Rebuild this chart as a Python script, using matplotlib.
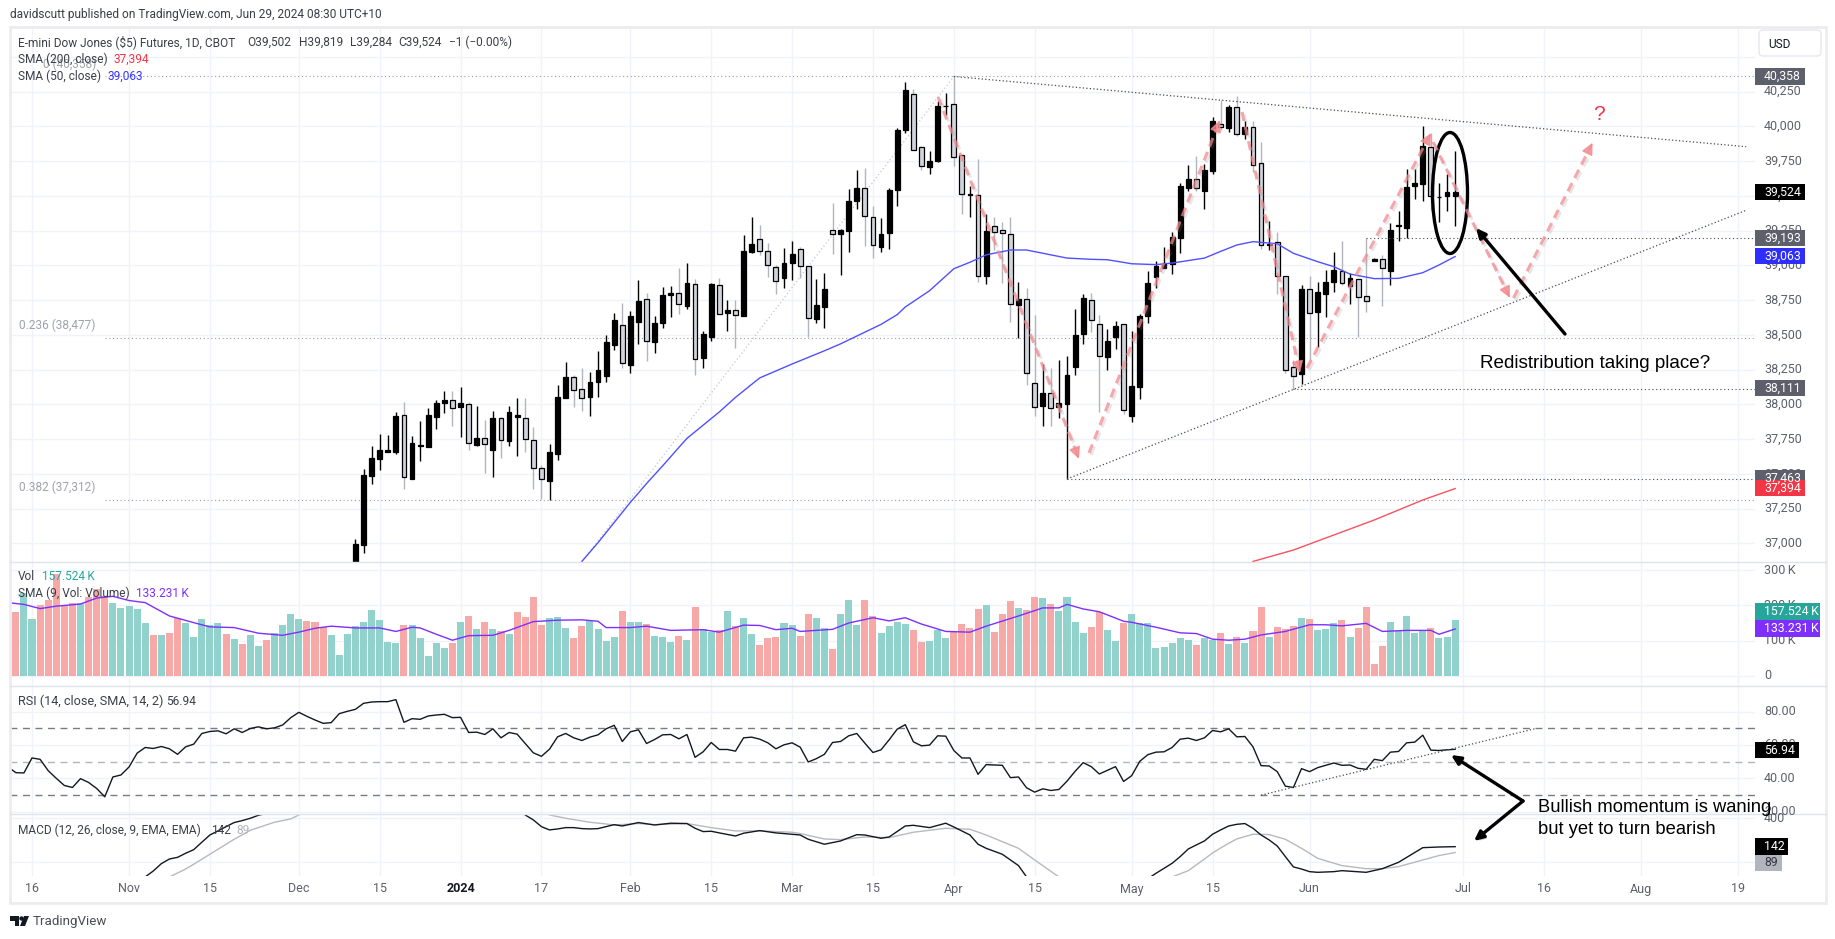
import matplotlib
matplotlib.use('Agg')
import matplotlib.pyplot as plt
import matplotlib.patheffects as pe
from matplotlib.patches import Ellipse, Rectangle, FancyBboxPatch, Polygon, Circle
import numpy as np

W, H = 1835, 939
plt.rcParams['font.family'] = ['Roboto', 'DejaVu Sans']

# daily candles, first bar index is 40 (bar 0 = 16 Oct 2023)
first_bar = 40
opens = [36800,36990,37487,37610,37660,37658,37924,37466,37703,37696,
         37912,38013,38034,37984,38003,37710,37761,37674,37902,37739,
         37912,37902,37744,37542,37451,37646,38049,38200,38111,38056,
         38157,38207,38430,38574,38286,38593,38756,38449,38586,38788,
         38800,38708,38864,38334,38485,38857,38658,38677,38636,39097,
         39188,39102,38987,38910,39018,39116,38994,38615,38701,39253,
         39227,39248,39464,39556,39349,39133,39234,39544,39976,40235,
         39851,39709,39750,40144,40160,39793,39503,39505,38920,39282,
         39253,39224,38716,38759,38152,37988,38080,37981,38003,38269,
         38507,38749,38576,38341,38485,38576,37916,38125,38636,38917,
         38982,39011,39198,39558,39622,39536,39680,40018,39990,40138,
         39946,39994,39735,39145,39166,38922,38266,38221,38828,38665,
         38794,38881,38958,38854,38900,38778,39032,39044,38960,39284,
         39270,39572,39586,39850,39488,39500,39502]
highs = [37031,37538,37703,37790,37782,37948,38020,37773,37883,37970,
         38034,38099,38099,38121,38020,37991,37890,37955,37910,37991,
         38042,38042,37840,37566,37718,38142,38308,38214,38258,38229,
         38380,38502,38654,38726,38668,38896,38802,38636,38845,38852,
         38982,39018,38903,38528,38874,38910,38752,38752,39220,39349,
         39292,39162,39004,39126,39176,39133,38994,38903,38946,39450,
         39260,39551,39688,39702,39428,39342,39558,39990,40321,40271,
         39856,39824,40184,40242,40358,39796,39570,39767,39371,39349,
         39313,39349,38881,38838,38644,38291,38262,38320,38348,38687,
         38795,38802,38644,38543,38600,38579,38528,38651,38960,39032,
         39133,39241,39594,39724,39788,39730,40069,40191,40155,40220,
         40040,40040,39889,39320,39241,38924,38319,38859,38924,38881,
         38967,39097,39176,38946,38902,39198,39050,39075,39303,39392,
         39694,39694,40004,39950,39594,39658,39819]
lows = [36780,36928,37430,37530,37655,37646,37394,37466,37595,37696,
        37826,37934,37847,37768,37674,37703,37509,37480,37617,37703,
        37631,37660,37394,37322,37310,37602,38049,37984,37955,37919,
        38056,38164,38394,38258,38222,38435,38312,38370,38550,38629,
        38651,38687,38212,38262,38456,38653,38528,38406,38636,39090,
        39076,38917,38795,38838,38896,38908,38485,38586,38550,39083,
        38932,39097,39407,39140,39054,39097,39119,39428,39954,39827,
        39688,39659,39745,40084,39716,39371,39350,38881,38867,39110,
        38874,38593,38478,38140,37916,37844,37844,37902,37463,38212,
        38435,38521,37945,38248,38399,37931,37873,38039,38586,38838,
        38980,38939,39090,39536,39531,39406,39658,39975,39961,39927,
        39910,39673,39118,39111,38794,38228,38111,38146,38319,38415,
        38629,38809,38859,38722,38485,38665,39030,38708,38859,39176,
        39198,39478,39464,39399,39313,39392,39284]
closes = [36998,37494,37617,37674,37674,37919,37475,37725,37710,37926,
          38006,38034,37972,38006,37722,37761,37713,37905,37742,37948,
          37926,37749,37540,37461,37660,38056,38193,38102,38044,38164,
          38250,38445,38610,38294,38632,38744,38452,38586,38788,38802,
          38718,38874,38329,38507,38867,38653,38680,38639,39104,39155,
          39100,39001,38884,39018,39083,38992,38624,38716,38831,39222,
          39256,39464,39558,39352,39143,39227,39544,39976,40264,39827,
          39712,39752,40148,40148,39776,39510,39512,38920,39248,39236,
          39229,38725,38759,38228,37984,38082,37976,38012,38212,38500,
          38766,38603,38344,38456,38564,37962,38132,38636,38874,38996,
          39018,39205,39572,39623,39553,39687,40040,39992,40141,39942,
          39994,39718,39145,39154,38922,38245,38206,38830,38655,38809,
          38881,38967,38871,38910,38775,38746,39046,38984,39255,39291,
          39565,39591,39860,39495,39490,39529,39524]

# volume in thousands, first bar index is -3
vol_first = -3
volume = [150,181,234,161,201,215,289,201,206,208,225,248,228,208,193,199,190,150,116,116,
          121,163,150,110,161,144,150,119,104,90,116,84,101,121,144,175,161,155,153,138,
          116,59,119,141,153,187,158,96,93,144,144,107,56,93,79,93,153,170,133,153,
          133,127,119,181,167,224,144,164,167,136,107,141,155,133,99,110,184,153,153,147,
          113,110,96,113,101,195,133,124,130,184,141,164,119,87,107,110,150,144,113,175,
          164,136,76,175,215,144,215,170,121,141,153,147,130,96,99,130,107,124,147,136,
          190,201,124,175,212,192,187,224,221,204,184,224,153,121,138,181,130,99,150,175,
          150,150,79,82,93,107,101,87,107,101,121,90,110,93,127,195,110,138,133,141,
          164,161,130,133,150,158,110,136,195,33,84,153,127,170,122,130,136,107,110,158]
vol_colors = ('grg' 'grrrrrgrrr' 'gggggrgrrg' 'ggggrgrggr' 'ggggrrrggg' 'ggggggrggg'
              'ggrgrgrgrg' 'rrrrgggrrg' 'gggrggrggg' 'rgrggrgrgg' 'rrrggrrggr'
              'gggrrggggr' 'rgggrrrrgr' 'rrgrrgrggg' 'grrggrgggg' 'ggggrggrgr'
              'grrgrrrgrg' 'ggrgrrrrgg' 'gggrggg')

vol_sma_x = [-3,-1,1,3,6,8,10,12,14,17,20,22,25,28,31,33,35,37,40,43,45,47,48,50,52,54,57,59,62,65,68,70,71,
             74,76,79,83,85,88,90,92,94,95,99,101,104,106,108,110,113,116,118,122,125,127,128,130,132,135,136,139,142,144,146,
             148,150,152,155,158,160,162,165,167,170,173,174,176]
vol_sma = [208,203,191,198,204,221,226,214,208,170,151,139,137,121,115,124,135,141,136,136,126,138,136,118,101,114,115,129,154,158,159,155,137,
           137,141,129,131,124,144,143,131,135,126,132,150,165,156,165,147,126,124,141,170,193,193,203,190,182,155,152,138,122,120,104,
           101,104,116,126,145,145,142,149,126,129,129,118,133]

rsi_first = -3
rsi = [47.0,43.4,43.2,52.2,51.4,44.6,40.0,35.7,34.5,39.8,37.5,33.9,28.9,40.8,42.0,46.8,55.1,58.5,57.9,59.1,
       57.7,54.4,58.9,60.5,66.9,68.1,68.5,66.7,69.7,67.5,69.9,70.9,69.7,70.3,72.0,76.4,79.6,77.2,75.0,73.0,
       73.4,78.8,80.2,81.4,85.0,85.8,86.0,86.0,87.2,73.6,75.8,75.4,77.4,78.0,78.4,76.4,76.6,67.5,67.7,66.3,
       69.7,64.3,67.5,66.5,60.9,55.3,53.2,57.5,64.9,66.9,64.3,62.7,64.7,66.1,69.7,71.8,62.1,67.9,69.1,60.9,
       63.3,66.1,66.3,63.7,66.3,52.6,55.9,61.5,57.3,57.3,56.3,64.3,64.7,63.5,61.3,57.7,60.1,61.3,58.7,49.8,
       51.8,54.4,61.5,62.1,65.5,66.9,61.1,55.5,57.1,63.1,69.5,72.2,61.9,59.5,59.9,65.5,65.3,56.7,52.2,52.2,
       42.4,48.2,48.0,47.8,40.4,40.8,34.3,31.7,33.7,32.7,33.3,38.3,44.2,49.4,47.0,42.6,44.8,47.0,38.1,41.6,
       50.2,54.2,55.7,55.9,58.5,63.5,64.1,62.7,64.3,68.7,67.9,69.7,64.9,65.1,58.9,47.6,47.4,44.0,35.3,34.5,
       45.8,44.0,46.4,47.8,49.2,47.8,48.0,46.0,45.4,51.4,50.6,55.7,56.1,61.3,61.7,65.9,56.9,56.7,57.1,57.4]

# macd runs off the pane, nan where it is out of sight
macd_x = [14,15,16,17,18,19,20,21,22,23,24,25,26,27,28,29,30,
          60,61,62,63,64,65,66,67,68,69,70,71,72,73,75,77,79,81,82,83,84,85,87,88,90,92,93,95,96,98,100,102,103,105,106,108,109,111,113,114,116,117,118,120,122,123,124,
          137,138,139,140,141,142,143,144,145,146,147,148,149,150,151,152,153,154,155,156,157,158,159,161,162,165,167,169,172,174,176]
macd = [-133,-79,-12,30,45,82,115,182,248,285,324,361,379,400,427,445,np.nan,
        np.nan,430,385,324,294,303,315,315,306,303,306,324,342,330,361,339,355,352,309,279,282,267,239,264,288,267,261,248,209,164,194,251,248,218,230,330,336,315,355,321,248,164,127,73,-30,-133,np.nan,
        np.nan,-150,-100,-55,-9,52,121,158,194,255,294,330,345,352,309,248,203,148,52,-42,-61,-85,-91,-85,-76,-91,-58,0,133,139,142]
signal_x = [17,19,20,22,25,27,30,32,33,34,
            63,64,66,69,71,72,75,77,81,84,87,90,94,95,98,100,103,106,109,111,113,116,118,122,124,127,128,
            140,141,143,145,146,147,148,149,151,153,155,157,159,162,165,167,169,172,174,176]
signal = [-133,-61,-18,73,209,291,364,394,430,np.nan,
          np.nan,430,400,364,348,339,352,342,352,315,285,285,273,261,212,206,230,224,273,291,309,300,248,127,21,-133,np.nan,
          np.nan,-133,-76,30,85,130,173,212,255,252,209,127,36,-30,-58,-58,-39,21,61,89]

sma50_x = [68,70,72,74,76,78,80,81,83,85,87,90,92,94,98,100,102,105,107,108,111,114,116,118,121,123,126,128,131,133,136,139,141,145,147,149,151,154,156,159,161,163,166,169,172,174,176]
sma50 = [36870,37005,37150,37295,37430,37558,37690,37755,37850,37945,38050,38190,38240,38290,38385,38435,38491,38575,38645,38700,38817,38975,39022,39075,39110,39110,39075,39052,39043,39040,39011,39005,39016,39052,39100,39146,39170,39155,39086,39026,38990,38937,38904,38906,38947,39002,39063]
sma200_x = [151,156,158,161,166,169,172,176]
sma200 = [36870,36952,36995,37060,37168,37240,37312,37394]

price_ticks = [37000,37250,37500,37750,38000,38250,38500,38750,39000,39250,39500,39750,40000,40250]
vol_ticks = [0,100,200,300]
rsi_ticks = [20,40,60,80]
macd_ticks = [0,400]
time_pos = [0,12,22,33,43,53,63,74,84,94,104,114,124,136,146,158,177,187,199,211]
time_labels = ['16','Nov','15','Dec','15','2024','17','Feb','15','Mar','15','Apr','15','May','15','Jun','Jul','16','Aug','19']

fib_low, fib_high = 32388, 40358
fib_levels = [0, 0.236, 0.382]
level_lines = [(165, 39193), (156, 38111), (128, 37463)]

UP_BODY, DOWN_BODY, DOWN_WICK = '#000000', '#d1d4dc', '#b2b5be'
GRID = '#f0f3fa'
SEP = '#e0e3eb'
AXTXT = '#5d606b'
TEAL, RED = '#26a69a', '#ef5350'
DOTTED = '#4a4c54'

fig = plt.figure(figsize=(W / 100, H / 100), dpi=100, facecolor='white')

LEFT, RIGHT = 9.5, 1755.0
BAR0, BAR_W = 32.0, 8.086

def pane(top, bottom, ylim):
    ax = fig.add_axes([LEFT / W, 1 - bottom / H, (RIGHT - LEFT) / W, (bottom - top) / H])
    ax.set_xlim((LEFT - BAR0) / BAR_W, (RIGHT - BAR0) / BAR_W)
    ax.set_ylim(*ylim)
    ax.set_xticks(time_pos)
    ax.tick_params(length=0, labelbottom=False, labelleft=False)
    ax.grid(True, color=GRID, lw=1)
    ax.set_axisbelow(True)
    for s in ax.spines.values():
        s.set_visible(False)
    ax.patch.set_alpha(0)
    return ax

ax = pane(27, 561.7, (36868, 40714))
axv = pane(561.7, 686, (-29.3, 324.5))
axr = pane(686, 814.3, (18.4, 95.4))
axm = pane(814.3, 876, (-124.5, 436))
ax.set_yticks(price_ticks + [40500])
axv.set_yticks(vol_ticks)
axr.set_yticks(rsi_ticks)
axm.set_yticks(macd_ticks)

# main pane
bars = np.arange(first_bar, first_bar + len(opens))
o, hi, lo, c = map(np.array, (opens, highs, lows, closes))
up = c >= o

fib_start = 9
for lev in fib_levels:
    p = fib_high - lev * (fib_high - fib_low)
    ax.plot([fib_start, 213.1], [p, p], color='#9a9ca4', lw=0.8, ls=(0, (1, 2.4)))
ax.plot([fib_start, 114], [fib_low, fib_high], color='#c4c6cc', lw=0.9, ls=(0, (1, 2)))

ax.vlines(bars[up], lo[up], hi[up], color=UP_BODY, lw=1, zorder=3)
ax.vlines(bars[~up], lo[~up], hi[~up], color=DOWN_WICK, lw=1, zorder=3)
ax.bar(bars[up], (c - o)[up], bottom=o[up], width=0.6, color=UP_BODY, edgecolor='black', lw=0.9, zorder=4)
ax.bar(bars[~up], (o - c)[~up], bottom=c[~up], width=0.6, color=DOWN_BODY, edgecolor='black', lw=0.9, zorder=4)

ax.plot(sma50_x, sma50, color='#5050ff', lw=1.0, zorder=5)
ax.plot(sma200_x, sma200, color='#f7525f', lw=1.0, zorder=5)

# trend lines and swing levels
ax.plot([114, 212], [40358, 39853], color=DOTTED, lw=0.9, ls=(0, (1, 1.8)), zorder=6)
ax.plot([128, 212], [37463, 39396], color=DOTTED, lw=0.9, ls=(0, (1, 1.8)), zorder=6)
for start, lvl in level_lines:
    ax.plot([start, 213.1], [lvl, lvl], color=DOTTED, lw=0.8, ls=(0, (1, 2.4)), zorder=6)

# volume
vb = np.arange(vol_first, vol_first + len(volume))
vc = ['#92d2cc' if ch == 'g' else '#f7a9a7' for ch in vol_colors]
axv.bar(vb, volume, width=0.87, color=vc, zorder=2)
axv.plot(vol_sma_x, vol_sma, color='#7e2fff', lw=1.0, zorder=3)

# rsi
for lvl, col in [(70, '#787b86'), (50, '#b2b5be'), (30, '#787b86')]:
    axr.axhline(lvl, color=col, lw=1, ls=(0, (5, 4)), zorder=2)
axr.plot(np.arange(rsi_first, rsi_first + len(rsi)), rsi, color='#131722', lw=1.0, zorder=3)
axr.plot([152, 186], [29.9, 69.9], color=DOTTED, lw=0.9, ls=(0, (1, 1.8)), zorder=4)

# macd
axm.plot(macd_x, macd, color='#131722', lw=1.0, zorder=3)
axm.plot(signal_x, signal, color='#b8b9c0', lw=1.0, zorder=2)

# everything below is placed in picture pixels
ov = fig.add_axes([0, 0, 1, 1], zorder=10)
ov.set_xlim(0, W)
ov.set_ylim(H, 0)
ov.axis('off')
ov.patch.set_alpha(0)

ov.add_patch(Rectangle((9.5, 27), 1816.5, 876, fill=False, ec='#ececf0', lw=2))
for y in (561.7, 686, 814.3):
    ov.plot([10, 1826], [y, y], color=SEP, lw=1)

def txt(x, y, s, col='#3c3f47', size=8.6, **kw):
    kw.setdefault('ha', 'left')
    return ov.text(x, y, s, color=col, fontsize=size, va='center', **kw)

txt(10, 14.7, 'davidscutt published on TradingView.com, Jun 29, 2024 08:30 UTC+10', col='#3a3d45', size=8.6)
for x, s in [(18, 'E-mini Dow Jones ($5) Futures, 1D, CBOT'), (247, 'O39,502'), (298.5, 'H39,819'),
             (349.5, 'L39,284'), (398.6, 'C39,524'), (449, '\u22121 (\u22120.00%)')]:
    txt(x, 42, s)
txt(43, 64, '0 (40,358)', col='#a0a2aa')
txt(18, 59, 'SMA (200, close)')
txt(113.5, 59, '37,394', col='#f23645')
txt(18, 76, 'SMA (50, close)')
txt(107, 76, '39,063', col='#3535ff')
txt(19, 325.5, '0.236 (38,477)', col='#a0a2aa')
txt(19, 487, '0.382 (37,312)', col='#a0a2aa')
txt(18, 576.7, 'Vol')
txt(41.5, 576.7, '157.524\u202fK', col=TEAL)
txt(18, 593.7, 'SMA (9, Vol: Volume)')
txt(136, 593.7, '133.231\u202fK', col='#7e2fff')
txt(18, 701.7, 'RSI (14, close, SMA, 14, 2)', size=9.1)
txt(166, 701.7, '56.94')
txt(18, 830, 'MACD (12, 26, close, 9, EMA, EMA)')
txt(211.5, 830, '142')
txt(236.5, 830, '89', col='#b2b5be')

# price scale
for p in price_ticks:
    txt(1764, 543.3 - (p - 37000) * 0.139, f'{p:,}', col=AXTXT, size=9)
for v, s in zip([0, 100, 200, 300], ['0', '100\u202fK', '200\u202fK', '300\u202fK']):
    txt(1764, 675.7 - v * 0.3513, s, col=AXTXT, size=9)
for v in rsi_ticks:
    txt(1764, 778.3 - (v - 40) * 1.665, f'{v:.2f}', col=AXTXT, size=9)
txt(1764, 818.3, '400', col=AXTXT, size=9)

for x1, y, s, bg, fg in [(1805, 76.5, '40,358', '#5d606b', 'white'), (1805, 192, '39,524', '#000000', 'white'),
                         (1805, 238, '39,193', '#5d606b', 'white'), (1805, 256, '39,063', '#2e2eff', 'white'),
                         (1805, 388, '38,111', '#5d606b', 'white'), (1805, 478.5, '37,463', '#5d606b', 'white'),
                         (1805, 488, '37,394', '#f23645', 'white'), (1820, 611.7, '157.524\u202fK', TEAL, 'white'),
                         (1820, 628.3, '133.231\u202fK', '#7e2fff', 'white'), (1799, 750, '56.94', '#000000', 'white'),
                         (1788, 846.7, '142', '#000000', 'white'), (1782, 863, '89', '#b2b5be', '#33353c')]:
    ov.add_patch(Rectangle((1755, y - 8.4), x1 - 1755, 16.8, fc=bg, ec='none', zorder=3))
    txt(1764, y, s, col=fg, size=8.8, zorder=4)

ov.add_patch(FancyBboxPatch((1759, 30), 62, 26, boxstyle='round,pad=0,rounding_size=4', fc='white', ec='#e6e8ee', lw=1))
txt(1768, 45, 'USD', col='#131722', size=8.6)

for pos, s in zip(time_pos, time_labels):
    txt(BAR0 + pos * BAR_W, 889, s, col='#131722' if s == '2024' else AXTXT, size=9, ha='center',
        fontweight='bold' if s == '2024' else 'normal')

# logo
ov.add_patch(Polygon([(10, 916), (19, 916), (19, 926), (15, 926), (15, 921), (10, 921)], fc='#131722', ec='none'))
ov.add_patch(Circle((21.5, 918.5), 2.2, fc='#131722', ec='none'))
ov.add_patch(Polygon([(24, 916), (29, 916), (25, 926), (20, 926)], fc='#131722', ec='none'))
txt(33, 921.7, 'TradingView', col='#4a4c54', size=9.6)

# hand drawn overlays
shadow = [pe.SimpleLineShadow(offset=(1.5, -1.5), shadow_color='#888888', alpha=0.2), pe.Normal()]
PINK = '#f28a8f'

def pink_arrow(x0, y0, x1, y1):
    d = np.hypot(x1 - x0, y1 - y0)
    bx, by = x1 - (x1 - x0) * 10 / d, y1 - (y1 - y0) * 10 / d
    ov.plot([x0, bx], [y0, by], color=PINK, lw=2.2, alpha=0.75, ls=(0, (3, 1.9)), dash_capstyle='butt', path_effects=shadow)
    ov.annotate('', xy=(x1, y1), xytext=(bx, by), arrowprops=dict(arrowstyle='-|>,head_width=0.34,head_length=0.7', color=PINK, lw=1.2, alpha=0.8, shrinkA=0, shrinkB=0))

for seg in [(938, 97, 1079, 459), (1089, 453, 1220, 120), (1242, 112, 1300, 373),
            (1307, 368, 1431, 133), (1433, 142, 1510, 298), (1513.5, 298, 1592.6, 142.7)]:
    pink_arrow(*seg)

def black_arrow(x0, y0, x1, y1):
    ov.annotate('', xy=(x1, y1), xytext=(x0, y0),
                arrowprops=dict(arrowstyle='-|>,head_width=0.26,head_length=0.55', color='black', lw=2.4, shrinkA=0, shrinkB=0,
                                path_effects=[pe.SimplePatchShadow(offset=(1.5, -1.5), alpha=0.2), pe.Normal()]))

black_arrow(1565, 334, 1476, 228)
black_arrow(1523, 801, 1451, 755)
black_arrow(1523, 801, 1474, 841)

ov.add_patch(Ellipse((1450, 193), 35, 121, fill=False, ec='black', lw=2.4))
ov.text(1598.5, 114, '?', color='#f23645', fontsize=15, ha='center', va='center', family='Liberation Sans')
ov.text(1480, 364, 'Redistribution taking place?', color='black', fontsize=13.55, family='Liberation Sans', va='center')
ov.text(1538, 807, 'Bullish momentum is waning', color='black', fontsize=13.25, family='Liberation Sans', va='center')
ov.text(1538, 830, 'but yet to turn bearish', color='black', fontsize=13.25, family='Liberation Sans', va='center')

fig.savefig('out.png', dpi=100, facecolor='white')
